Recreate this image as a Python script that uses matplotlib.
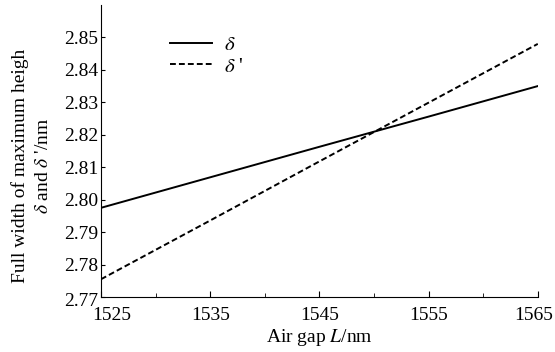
import numpy as np
import matplotlib
matplotlib.use("Agg")
import matplotlib.pyplot as plt
from matplotlib.ticker import MultipleLocator
from matplotlib.transforms import ScaledTranslation

plt.rcParams['font.family'] = ['Liberation Serif', 'DejaVu Serif']
plt.rcParams['mathtext.fontset'] = 'stix'

# values
air_gap = [1525, 1535, 1545, 1555, 1565]
delta = [2.7975, 2.8069, 2.8163, 2.8256, 2.835]
delta_prime = [2.7755, 2.7936, 2.8118, 2.8299, 2.848]
x_ticks = [1525, 1535, 1545, 1555, 1565]
y_ticks = [2.77, 2.78, 2.79, 2.80, 2.81, 2.82, 2.83, 2.84, 2.85]

fig = plt.figure(figsize=(5.55, 3.52), dpi=100)
ax = fig.add_axes([0.182, 0.156, 0.787, 0.83])

ax.plot(air_gap, delta, color='black', lw=1.4, label=r'$\delta$')
ax.plot(air_gap, delta_prime, color='black', lw=1.4, dashes=(3, 1.6),
        label=r"$\delta$ '")

ax.set_xlim(1525, 1565)
ax.set_ylim(2.77, 2.86)
ax.set_xticks(x_ticks)
ax.set_yticks(y_ticks)
ax.set_yticklabels([f"{v:.2f}" for v in y_ticks])
ax.xaxis.set_minor_locator(MultipleLocator(5))

for side in ['top', 'right']:
    ax.spines[side].set_visible(False)
ax.tick_params(axis='both', which='both', direction='in', labelsize=14)
ax.tick_params(axis='x', which='major', length=4, pad=7)
ax.tick_params(axis='x', which='minor', length=3)
ax.tick_params(axis='y', length=3, pad=2)

# first and last x labels nudged like in the original
xlabels = ax.get_xticklabels()
xlabels[0].set_transform(xlabels[0].get_transform() + ScaledTranslation(0.11, 0, fig.dpi_scale_trans))
xlabels[-1].set_transform(xlabels[-1].get_transform() + ScaledTranslation(-0.04, 0, fig.dpi_scale_trans))
ylabels = ax.get_yticklabels()
ylabels[0].set_transform(ylabels[0].get_transform() + ScaledTranslation(0, -0.02, fig.dpi_scale_trans))

ax.set_xlabel(r'Air gap $L$/nm', fontsize=14, labelpad=2)
ax.set_ylabel("Full width of maximum heigh\n" + r"$\delta$ and $\delta$ '/nm",
              fontsize=14, linespacing=1.45)
ax.yaxis.set_label_coords(-0.112, 0.45)

ax.legend(loc='upper left', bbox_to_anchor=(0.115, 0.96), frameon=False,
          fontsize=15, handlelength=2.0, handletextpad=0.6,
          labelspacing=0.1)

fig.savefig('out.png', dpi=100)
